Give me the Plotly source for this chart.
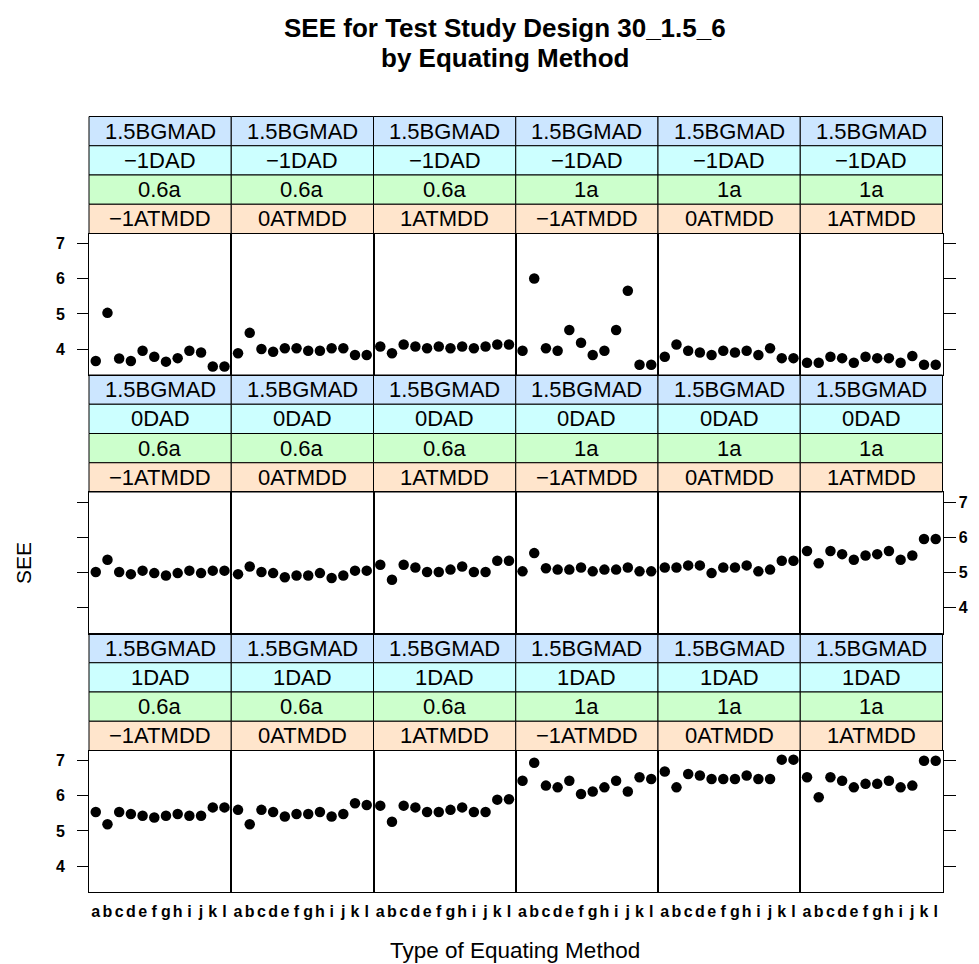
import plotly.graph_objects as go

# Equating methods on the x axis
methods = list("abcdefghijkl")

# Conditioning levels (strip labels)
bgmad_level = "1.5BGMAD"
dad_levels = ["\u22121DAD", "0DAD", "1DAD"]          # one per panel row
a_levels = ["0.6a", "0.6a", "0.6a", "1a", "1a", "1a"]  # one per panel column
atmdd_levels = ["\u22121ATMDD", "0ATMDD", "1ATMDD",
                "\u22121ATMDD", "0ATMDD", "1ATMDD"]

# SEE values, one list of 12 methods per panel column
see_dad_m1 = [
    [3.66, 5.03, 3.73, 3.66, 3.95, 3.78, 3.64, 3.74, 3.95, 3.90, 3.50, 3.50],
    [3.88, 4.46, 4.00, 3.92, 4.02, 4.02, 3.95, 3.95, 4.02, 4.02, 3.83, 3.83],
    [4.07, 3.88, 4.13, 4.07, 4.02, 4.07, 4.02, 4.07, 4.02, 4.07, 4.13, 4.13],
    [3.95, 6.01, 4.02, 3.95, 4.54, 4.18, 3.83, 3.95, 4.54, 5.66, 3.55, 3.55],
    [3.78, 4.13, 3.95, 3.90, 3.83, 3.95, 3.90, 3.95, 3.83, 4.02, 3.74, 3.74],
    [3.61, 3.61, 3.78, 3.74, 3.61, 3.78, 3.74, 3.74, 3.61, 3.80, 3.55, 3.55],
]
see_dad_0 = [
    [5.01, 5.36, 5.01, 4.95, 5.05, 4.98, 4.91, 4.98, 5.05, 4.98, 5.05, 5.05],
    [4.95, 5.17, 5.01, 4.98, 4.86, 4.91, 4.91, 4.98, 4.84, 4.91, 5.05, 5.05],
    [5.22, 4.79, 5.22, 5.14, 5.01, 5.01, 5.08, 5.17, 5.01, 5.01, 5.33, 5.33],
    [5.03, 5.55, 5.12, 5.08, 5.08, 5.14, 5.03, 5.08, 5.08, 5.14, 5.03, 5.03],
    [5.14, 5.14, 5.20, 5.20, 4.98, 5.14, 5.14, 5.20, 5.03, 5.08, 5.33, 5.33],
    [5.61, 5.26, 5.61, 5.52, 5.36, 5.48, 5.52, 5.61, 5.36, 5.48, 5.95, 5.95],
]
see_dad_1 = [
    [5.54, 5.19, 5.54, 5.48, 5.43, 5.38, 5.43, 5.48, 5.43, 5.43, 5.67, 5.67],
    [5.60, 5.19, 5.60, 5.54, 5.41, 5.48, 5.48, 5.54, 5.41, 5.48, 5.79, 5.74],
    [5.72, 5.26, 5.72, 5.67, 5.54, 5.54, 5.60, 5.67, 5.54, 5.54, 5.89, 5.90],
    [6.43, 6.94, 6.29, 6.24, 6.43, 6.05, 6.12, 6.24, 6.43, 6.12, 6.53, 6.48],
    [6.69, 6.24, 6.62, 6.58, 6.48, 6.48, 6.48, 6.58, 6.48, 6.48, 7.03, 7.03],
    [6.53, 5.96, 6.53, 6.43, 6.24, 6.34, 6.34, 6.43, 6.24, 6.29, 7.00, 7.00],
]
see_rows = [see_dad_m1, see_dad_0, see_dad_1]

y_ticks = [4, 5, 6, 7]

# Page geometry in pixels
W, H = 979, 964
COL_LEFT, COL_W = 89.0, 142.25
ROW_TOP, ROW_PERIOD = 116.5, 258.5
STRIP_H, PANEL_H = 29.25, 141.5

STRIP_COLORS = ["#cce6ff", "#ccffff", "#ccffcc", "#ffe5cc"]
FONT = "Liberation Sans, Arial, sans-serif"


def px_x(x):
    return x / W


def px_y(y):
    return 1 - y / H


fig = go.Figure()
layout = {}
shapes = []
annotations = []

for r in range(3):
    strip_top = ROW_TOP + r * ROW_PERIOD
    panel_top = strip_top + 4 * STRIP_H
    panel_bot = panel_top + PANEL_H
    for c in range(6):
        idx = r * 6 + c + 1
        xname = "xaxis" if idx == 1 else f"xaxis{idx}"
        yname = "yaxis" if idx == 1 else f"yaxis{idx}"
        xref = "x" if idx == 1 else f"x{idx}"
        yref = "y" if idx == 1 else f"y{idx}"
        x0 = COL_LEFT + c * COL_W
        x1 = x0 + COL_W

        fig.add_trace(go.Scatter(
            x=list(range(1, len(methods) + 1)),
            y=see_rows[r][c],
            mode="markers",
            marker=dict(color="black", size=10.5, symbol="circle"),
            xaxis=xref, yaxis=yref, showlegend=False,
            hoverinfo="y",
        ))

        bottom_row = r == 2
        layout[xname] = dict(
            domain=[px_x(x0), px_x(x1)],
            anchor=yref,
            range=[0.42, 12.58],
            tickmode="array",
            tickvals=list(range(1, len(methods) + 1)),
            ticktext=methods,
            showticklabels=bottom_row,
            ticks="",
            tickangle=0,
            automargin=False,
            ticklabelstandoff=5,
            tickfont=dict(family=FONT, size=16, color="black", weight="bold"),
            showgrid=False, zeroline=False,
            showline=True, mirror=True, linecolor="black", linewidth=1,
            fixedrange=True,
        )

        ycfg = dict(
            domain=[px_y(panel_bot), px_y(panel_top)],
            anchor=xref,
            range=[3.26, 7.29],
            tickmode="array",
            tickvals=y_ticks,
            ticktext=[str(v) for v in y_ticks],
            automargin=False,
            showgrid=False, zeroline=False,
            showline=True, mirror=True, linecolor="black", linewidth=1,
            tickfont=dict(family=FONT, size=16, color="black", weight="bold"),
            fixedrange=True,
        )
        if c == 0:
            ycfg.update(side="left", ticks="outside", ticklen=11,
                        tickcolor="black", showticklabels=(r != 1),
                        ticklabelstandoff=9)
        elif c == 5:
            ycfg.update(side="right", ticks="outside", ticklen=12,
                        tickcolor="black", showticklabels=(r == 1),
                        ticklabelstandoff=0)
        else:
            ycfg.update(ticks="", showticklabels=False)
        layout[yname] = ycfg

        # Strips: BGMAD, DAD, a, ATMDD from top to bottom
        labels = [bgmad_level, dad_levels[r], a_levels[c], atmdd_levels[c]]
        for s in range(4):
            sy0 = strip_top + s * STRIP_H
            sy1 = sy0 + STRIP_H
            shapes.append(dict(
                type="rect", xref="paper", yref="paper",
                x0=px_x(x0), x1=px_x(x1), y0=px_y(sy1), y1=px_y(sy0),
                fillcolor=STRIP_COLORS[s],
                line=dict(color="black", width=1), layer="below",
            ))
            annotations.append(dict(
                xref="paper", yref="paper",
                x=px_x((x0 + x1) / 2), y=px_y((sy0 + sy1) / 2),
                text=labels[s], showarrow=False,
                xanchor="center", yanchor="middle",
                font=dict(family=FONT, size=22, color="black"),
            ))

# Titles
annotations.append(dict(
    xref="paper", yref="paper", x=px_x(505), y=px_y(28),
    text="SEE for Test Study Design 30_1.5_6", showarrow=False,
    xanchor="center", yanchor="middle",
    font=dict(family=FONT, size=26, color="black", weight="bold"),
))
annotations.append(dict(
    xref="paper", yref="paper", x=px_x(505), y=px_y(58),
    text="by Equating Method", showarrow=False,
    xanchor="center", yanchor="middle",
    font=dict(family=FONT, size=26, color="black", weight="bold"),
))
annotations.append(dict(
    xref="paper", yref="paper", x=px_x(23), y=px_y(563),
    text="SEE", showarrow=False, textangle=-90,
    xanchor="center", yanchor="middle",
    font=dict(family=FONT, size=21, color="black"),
))
annotations.append(dict(
    xref="paper", yref="paper", x=px_x(515), y=px_y(950),
    text="Type of Equating Method", showarrow=False,
    xanchor="center", yanchor="middle",
    font=dict(family=FONT, size=22.5, color="black"),
))

fig.update_layout(
    width=W, height=H,
    margin=dict(l=0, r=0, t=0, b=0, autoexpand=False),
    paper_bgcolor="white", plot_bgcolor="white",
    shapes=shapes, annotations=annotations,
    **layout,
)

fig.write_html("out.html")
